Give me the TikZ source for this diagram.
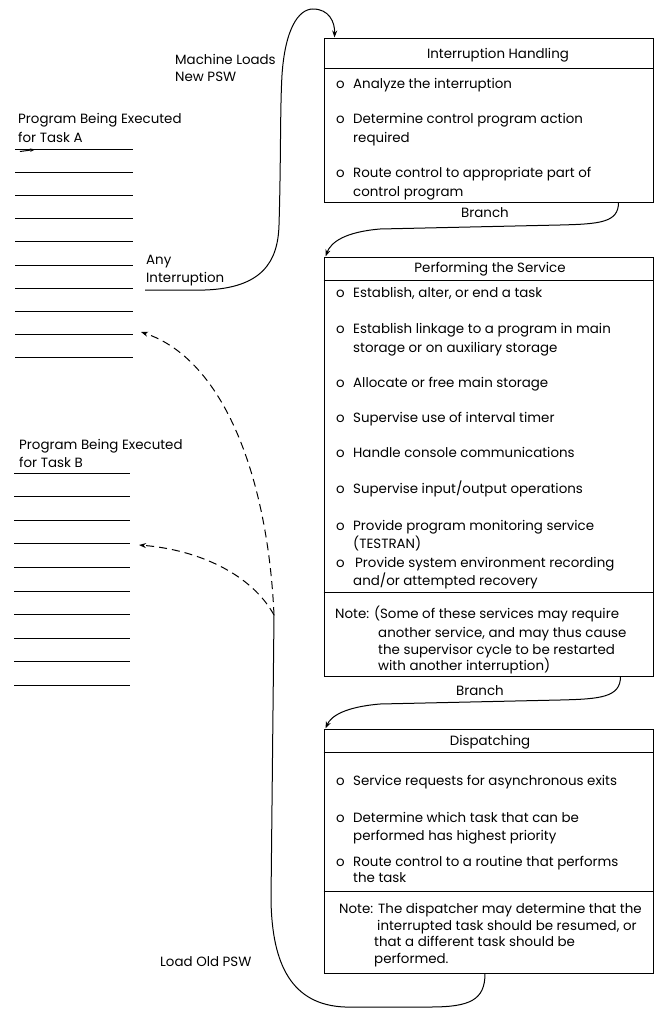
\documentclass[tikz,border=0pt]{standalone}
\usepackage{fontspec}
\setmainfont{Poppins}
\usetikzlibrary{arrows.meta,calc}
\begin{document}
\begin{tikzpicture}[x=1pt,y=-1pt,
  txt/.style={inner sep=0pt,anchor=base west,font=\fontsize{13.4}{16}\selectfont},
  ctxt/.style={inner sep=0pt,anchor=base,font=\fontsize{13.4}{16}\selectfont},
  box/.style={draw,line width=1pt,minimum width=329pt,inner sep=0pt},
  rule/.style={line width=1pt},
  prog/.style={line width=1pt},
  conn/.style={line width=1pt},
  tip/.style={-{Stealth[length=7pt,width=5pt]}},
  dashline/.style={dash pattern=on 8pt off 5pt}
]
\useasboundingbox (0,0) rectangle (657,1012);
\fill[white] (0,0) rectangle (657,1012);

% ---------- boxes ----------
\node[box,minimum height=164pt] (ih) at (488.5,120) {};
\node[box,minimum height=419pt] (ps) at (488.5,466.5) {};
\node[box,minimum height=244pt] (dp) at (488.5,851) {};
\draw[rule] (ih.west |- 0,68) -- (ih.east |- 0,68);
\draw[rule] (ps.west |- 0,280) -- (ps.east |- 0,280);
\draw[rule] (ps.west |- 0,592) -- (ps.east |- 0,592);
\draw[rule] (dp.west |- 0,752) -- (dp.east |- 0,752);
\draw[rule] (dp.west |- 0,891) -- (dp.east |- 0,891);

% ---------- box 1 ----------
\node[ctxt] (ihT) at (498,58) {Interruption Handling};
\node[txt] (i1o) at (336,88) {o};
\node[txt] (i1) at (353,88) {Analyze the interruption};
\node[txt] (i2o) at (336,123) {o};
\node[txt] (i2) at (353,123) {Determine control program action};
\node[txt] (i2b) at (353,142) {required};
\node[txt] (i3o) at (336,177) {o};
\node[txt] (i3) at (353,177) {Route control to appropriate part of};
\node[txt] (i3b) at (353,196) {control program};

% ---------- box 2 ----------
\node[ctxt] (psT) at (490,272.5) {Performing the Service};
\node[txt] (p1o) at (336,297) {o};
\node[txt] (p1) at (353,297) {Establish, alter, or end a task};
\node[txt] (p2o) at (336,333) {o};
\node[txt] (p2) at (353,333) {Establish linkage to a program in main};
\node[txt] (p2b) at (353,352) {storage or on auxiliary storage};
\node[txt] (p3o) at (336,387) {o};
\node[txt] (p3) at (353,387) {Allocate or free main storage};
\node[txt] (p4o) at (336,422) {o};
\node[txt] (p4) at (353,422) {Supervise use of interval timer};
\node[txt] (p5o) at (336,457) {o};
\node[txt] (p5) at (353,457) {Handle console communications};
\node[txt] (p6o) at (336,493) {o};
\node[txt] (p6) at (353,493) {Supervise input/output operations};
\node[txt] (p7o) at (336,530) {o};
\node[txt] (p7) at (353,530) {Provide program monitoring service};
\node[txt] (p7b) at (353,548) {(TESTRAN)};
\node[txt] (p8o) at (336,567) {o};
\node[txt] (p8) at (355,567) {Provide system environment recording};
\node[txt] (p8b) at (353,585) {and/or attempted recovery};
\node[txt] (pn) at (335,618) {Note: (Some of these services may require};
\node[txt] (pn2) at (378,637) {another service, and may thus cause};
\node[txt] (pn3) at (378,654) {the supervisor cycle to be restarted};
\node[txt] (pn4) at (378,670) {with another interruption)};

% ---------- box 3 ----------
\node[ctxt] (dpT) at (490,745) {Dispatching};
\node[txt] (d1o) at (336,785) {o};
\node[txt] (d1) at (353,785) {Service requests for asynchronous exits};
\node[txt] (d2o) at (336,822) {o};
\node[txt] (d2) at (353,822) {Determine which task that can be};
\node[txt] (d2b) at (353,840) {performed has highest priority};
\node[txt] (d3o) at (336,866) {o};
\node[txt] (d3) at (353,866) {Route control to a routine that performs};
\node[txt] (d3b) at (353,882) {the task};
\node[txt] (dn) at (339,913) {Note:};
\node[txt] (dn1) at (378,913) {The dispatcher may determine that the};
\node[txt] (dn2) at (377,930) {interrupted task should be resumed, or};
\node[txt] (dn3) at (374,946) {that a different task should be};
\node[txt] (dn4) at (374,963) {performed.};

% ---------- program listings ----------
\node[txt] (pa1) at (18,123.5) {Program Being Executed};
\node[txt] (pa2) at (18,142) {for Task A};
\foreach \yy in {149,172.2,195.4,218.6,241.8,265,288.2,311.4,334.6,357.8}
  \draw[prog] (15,\yy) -- (133,\yy);
\coordinate (mkA) at (20,151.5);
\coordinate (mkB) at (35,149.5);
\draw[conn,-{Stealth[length=5pt,width=3.5pt]}] (mkA) -- (mkB);

\node[txt] (pb1) at (19,449.5) {Program Being Executed};
\node[txt] (pb2) at (19,467) {for Task B};
\foreach \yy in {473,496.6,520.2,543.8,567.4,591,614.6,638.2,661.8,685.4}
  \draw[prog] (14,\yy) -- (130,\yy);

% ---------- side labels ----------
\node[txt] (ml1) at (175,64) {Machine Loads};
\node[txt] (ml2) at (175,81) {New PSW};
\node[txt] (ai1) at (146,264.5) {Any};
\node[txt] (ai2) at (146,282.5) {Interruption};
\node[txt] (lo) at (160,966.5) {Load Old PSW};
\node[ctxt] (br1) at (485,217.5) {Branch};
\node[ctxt] (br2) at (480,695.5) {Branch};

% ---------- connectors ----------
\coordinate (intstart) at (145,290);
\draw[conn,tip] (intstart) -- (205,290)
  .. controls (262,288) and (278,262) .. (279,225)
  .. controls (281,160) and (280,110) .. (282,75)
  .. controls (285,30) and (298,9) .. (313,9)
  .. controls (329,9) and (335,22) .. ([xshift=11pt]ih.north west);

\draw[conn,tip] ([xshift=-35pt]ih.south east)
  .. controls +(0,20) and (600,224) .. (560,225) -- (380,229)
  .. controls (345,232) and (331,242) .. ([xshift=2pt]ps.north west);

\draw[conn,tip] ([xshift=-33pt]ps.south east)
  .. controls +(0,21) and (600,699) .. (560,700) -- (380,704)
  .. controls (345,707) and (331,716) .. ([xshift=2pt]dp.north west);

\coordinate (J) at (274,615);
\coordinate (tA) at (141,332);
\coordinate (tB) at (139,545);
\draw[conn] ([xshift=-3.5pt]dp.south)
  .. controls (485,1000) and (470,1007) .. (430,1007) -- (345,1007)
  .. controls (292,1005) and (272,965) .. (271,900) -- (J);
\draw[conn,dashline,tip] (J) .. controls (268,480) and (225,360) .. (tA);
\draw[conn,dashline,tip] (J) .. controls (252,575) and (200,550) .. (tB);
\end{tikzpicture}
\end{document}
